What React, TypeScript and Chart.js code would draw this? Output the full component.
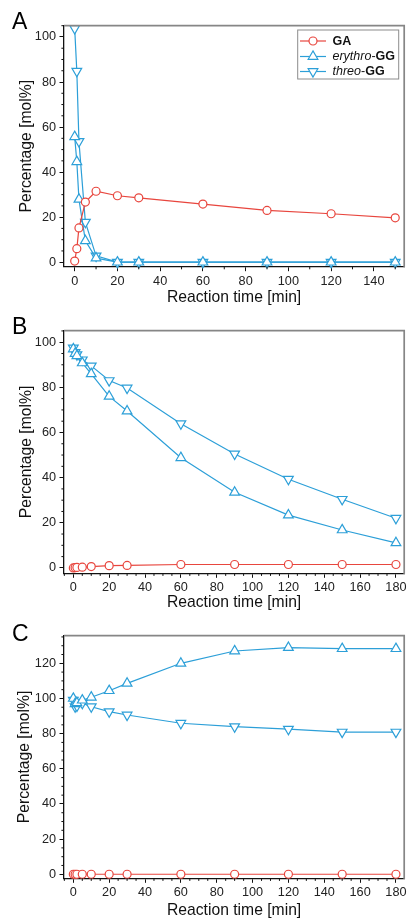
import React, { useEffect, useRef } from 'react';
import { Chart, registerables } from 'chart.js';

Chart.register(...registerables);

// ---- data ----
const timeA = [0, 1, 2, 5, 10, 20, 30, 60, 90, 120, 150];
const gaA = [0.5, 6.0, 15.2, 26.7, 31.5, 29.5, 28.6, 25.8, 23.0, 21.5, 19.7];
const erythroA = [55.7, 44.6, 27.9, 9.5, 1.8, 0, 0, 0, 0, 0, 0];
const threoA = [103.8, 84.8, 53.6, 17.8, 2.8, 0, 0, 0, 0, 0, 0];

const timeBC = [0, 1, 2, 5, 10, 20, 30, 60, 90, 120, 150, 180];
const gaB = [0, 0.1, 0.2, 0.3, 0.6, 1.0, 1.1, 1.5, 1.5, 1.5, 1.5, 1.5];
const erythroB = [97.0, 95.0, 94.0, 90.8, 86.0, 76.0, 69.5, 48.8, 33.5, 23.4, 16.8, 11.1];
const threoB = [97.5, 95.5, 94.5, 92.2, 89.5, 83.0, 79.7, 63.9, 50.5, 39.3, 30.4, 22.0];

const gaC = [0, 0, 0, 0, 0, 0, 0, 0, 0, 0, 0, 0];
const erythroC = [100.0, 97.0, 97.5, 99.0, 100.7, 104.4, 108.6, 120.0, 127.0, 128.9, 128.3, 128.3];
const threoC = [99.0, 95.3, 95.8, 97.3, 95.3, 92.5, 90.6, 85.9, 84.0, 82.5, 80.9, 80.9];

const xTicksA = [0, 20, 40, 60, 80, 100, 120, 140];
const xTicksBC = [0, 20, 40, 60, 80, 100, 120, 140, 160, 180];
const yTicksAB = [0, 20, 40, 60, 80, 100];
const yTicksC = [0, 20, 40, 60, 80, 100, 120];

const seriesNames = ['GA', 'erythro-GG', 'threo-GG'];
const xTitle = 'Reaction time [min]';
const yTitle = 'Percentage [mol%]';

const RED = '#e8463e';
const BLUE = '#2c9fd8';
const FONT = '"Liberation Sans", Arial, Helvetica, sans-serif';
const W = 411;
const TRI_R = 5.6;

type Spec = {
  letter: string;
  height: number;
  plotTop: number;
  plotBottom: number;
  xMin: number;
  xMax: number;
  yMin: number;
  yMax: number;
  xTicks: number[];
  yTicks: number[];
  xMinorStep: number;
  yMinorStep: number;
  time: number[];
  ga: number[];
  erythro: number[];
  threo: number[];
  legend: boolean;
  xTitlePad: number;
  yTitlePad: number;
  letterBase: number;
};

const specs: Spec[] = [
  {
    letter: 'A', height: 310, plotTop: 25.7, plotBottom: 266.7,
    xMin: -5, xMax: 154.2, yMin: -2, yMax: 105,
    xTicks: xTicksA, yTicks: yTicksAB, xMinorStep: 10, yMinorStep: 5,
    time: timeA, ga: gaA, erythro: erythroA, threo: threoA,
    legend: true, xTitlePad: 3.0, yTitlePad: 16.9, letterBase: 29.3,
  },
  {
    letter: 'B', height: 305, plotTop: 20.7, plotBottom: 263.3,
    xMin: -5.2, xMax: 184.6, yMin: -2.4, yMax: 105.1,
    xTicks: xTicksBC, yTicks: yTicksAB, xMinorStep: 5, yMinorStep: 5,
    time: timeBC, ga: gaB, erythro: erythroB, threo: threoB,
    legend: false, xTitlePad: 3.4, yTitlePad: 16.9, letterBase: 24,
  },
  {
    letter: 'C', height: 305, plotTop: 20.7, plotBottom: 263.3,
    xMin: -5.2, xMax: 184.6, yMin: -2.3, yMax: 135.7,
    xTicks: xTicksBC, yTicks: yTicksC, xMinorStep: 5, yMinorStep: 5,
    time: timeBC, ga: gaC, erythro: erythroC, threo: threoC,
    legend: false, xTitlePad: 0.4, yTitlePad: 15.5, letterBase: 26,
  },
];

function drawMarker(ctx: CanvasRenderingContext2D, kind: string, x: number, y: number, r: number, rot: number, color: string) {
  ctx.save();
  ctx.beginPath();
  if (kind === 'circle') {
    ctx.arc(x, y, r, 0, Math.PI * 2);
  } else {
    let a = (rot * Math.PI) / 180;
    for (let i = 0; i < 3; i++) {
      const px = x + Math.sin(a) * r;
      const py = y - Math.cos(a) * r;
      if (i === 0) ctx.moveTo(px, py);
      else ctx.lineTo(px, py);
      a += (2 * Math.PI) / 3;
    }
    ctx.closePath();
  }
  ctx.fillStyle = '#fff';
  ctx.fill();
  ctx.strokeStyle = color;
  ctx.lineWidth = 1.2;
  ctx.stroke();
  ctx.restore();
}

function makeConfig(spec: Spec): any {
  const pts = (arr: number[]) => spec.time.map((t, i) => ({ x: t, y: arr[i] }));
  const common = {
    borderWidth: 1.2,
    pointBorderWidth: 1.2,
    pointBackgroundColor: '#fff',
    clip: false,
    tension: 0,
  };
  const framePlugin = {
    id: 'frame' + spec.letter,
    afterDraw(chart: any) {
      const { ctx, chartArea: ca, scales } = chart;
      ctx.save();
      // top/right frame
      ctx.strokeStyle = '#868686';
      ctx.lineWidth = 1.7;
      ctx.beginPath();
      ctx.moveTo(ca.left, ca.top);
      ctx.lineTo(ca.right, ca.top);
      ctx.lineTo(ca.right, ca.bottom + 0.6);
      ctx.stroke();
      // minor ticks
      ctx.strokeStyle = '#111';
      ctx.lineWidth = 1;
      ctx.beginPath();
      const xs = scales.x;
      const ys = scales.y;
      for (let v = Math.ceil(spec.xMin / spec.xMinorStep) * spec.xMinorStep; v <= spec.xMax; v += spec.xMinorStep) {
        if (spec.xTicks.includes(v)) continue;
        const px = xs.getPixelForValue(v);
        ctx.moveTo(px, ca.bottom);
        ctx.lineTo(px, ca.bottom + 2.6);
      }
      for (let v = Math.ceil(spec.yMin / spec.yMinorStep) * spec.yMinorStep; v <= spec.yMax; v += spec.yMinorStep) {
        if (spec.yTicks.includes(v)) continue;
        const py = ys.getPixelForValue(v);
        ctx.moveTo(ca.left, py);
        ctx.lineTo(ca.left - 2.6, py);
      }
      ctx.stroke();
      // panel letter
      ctx.fillStyle = '#000';
      ctx.font = `23px ${FONT}`;
      ctx.textBaseline = 'alphabetic';
      ctx.textAlign = 'left';
      ctx.fillText(spec.letter, 12, spec.letterBase);
      // legend
      if (spec.legend) {
        ctx.strokeStyle = '#8c8c8c';
        ctx.lineWidth = 1;
        ctx.strokeRect(297.7, 30, 101, 49);
        const entries = [
          { color: RED, kind: 'circle', r: 4, rot: 0, y: 41, parts: [[seriesNames[0], 'normal', 'bold']] },
          { color: BLUE, kind: 'triangle', r: TRI_R, rot: 0, y: 56.5, parts: [['erythro', 'italic', 'normal'], ['-', 'normal', 'normal'], ['GG', 'normal', 'bold']] },
          { color: BLUE, kind: 'triangle', r: TRI_R, rot: 180, y: 71.5, parts: [['threo', 'italic', 'normal'], ['-', 'normal', 'normal'], ['GG', 'normal', 'bold']] },
        ];
        entries.forEach((e) => {
          ctx.strokeStyle = e.color;
          ctx.lineWidth = 1.2;
          ctx.beginPath();
          ctx.moveTo(300, e.y);
          ctx.lineTo(326, e.y);
          ctx.stroke();
          drawMarker(ctx, e.kind, 313, e.y, e.r, e.rot, e.color);
          let x = 332.5;
          ctx.fillStyle = '#111';
          ctx.textBaseline = 'middle';
          e.parts.forEach(([t, style, weight]) => {
            ctx.font = `${style} ${weight} 12.5px ${FONT}`;
            ctx.fillText(t, x, e.y + 0.5);
            x += ctx.measureText(t).width;
          });
        });
      }
      ctx.restore();
    },
  };
  return {
    type: 'line',
    data: {
      datasets: [
        {
          ...common, label: seriesNames[0], data: pts(spec.ga),
          borderColor: RED, backgroundColor: RED, pointBorderColor: RED,
          pointStyle: 'circle', pointRadius: 4,
        },
        {
          ...common, label: seriesNames[1], data: pts(spec.erythro),
          borderColor: BLUE, backgroundColor: BLUE, pointBorderColor: BLUE,
          pointStyle: 'triangle', pointRadius: TRI_R,
        },
        {
          ...common, label: seriesNames[2], data: pts(spec.threo),
          borderColor: BLUE, backgroundColor: BLUE, pointBorderColor: BLUE,
          pointStyle: 'triangle', pointRotation: 180, pointRadius: TRI_R,
        },
      ],
    },
    options: {
      animation: false,
      responsive: false,
      events: [],
      layout: { padding: { top: spec.plotTop, right: W - 407.3, left: 0, bottom: 0 } },
      plugins: { legend: { display: false }, tooltip: { enabled: false }, title: { display: false } },
      scales: {
        x: {
          type: 'linear',
          min: spec.xMin,
          max: spec.xMax,
          afterBuildTicks: (s: any) => { s.ticks = spec.xTicks.map((v) => ({ value: v })); },
          afterFit: (s: any) => { s.height = spec.height - spec.plotBottom; s.paddingLeft = 0; s.paddingRight = 0; },
          grid: { display: true, drawOnChartArea: false, drawTicks: true, tickLength: 4.5, tickColor: '#111', tickWidth: 1 },
          border: { display: true, color: '#111', width: 1.3 },
          ticks: { font: { family: FONT, size: 12.7 }, color: '#222', padding: 2.5, maxRotation: 0, autoSkip: false },
          title: { display: true, text: xTitle, font: { family: FONT, size: 15.7 }, color: '#111', padding: { top: 0, bottom: spec.xTitlePad } },
        },
        y: {
          type: 'linear',
          min: spec.yMin,
          max: spec.yMax,
          afterBuildTicks: (s: any) => { s.ticks = spec.yTicks.map((v) => ({ value: v })); },
          afterFit: (s: any) => { s.width = 64; s.paddingTop = 0; s.paddingBottom = 0; },
          grid: { display: true, drawOnChartArea: false, drawTicks: true, tickLength: 4.5, tickColor: '#111', tickWidth: 1 },
          border: { display: true, color: '#111', width: 1.3 },
          ticks: { font: { family: FONT, size: 12.7 }, color: '#222', padding: 3.5, autoSkip: false },
          title: { display: true, text: yTitle, font: { family: FONT, size: 15.7 }, color: '#111', padding: { top: spec.yTitlePad, bottom: 0 } },
        },
      },
    },
    plugins: [framePlugin],
  };
}

function Panel({ spec }: { spec: Spec }) {
  const ref = useRef<HTMLCanvasElement | null>(null);
  useEffect(() => {
    if (!ref.current) return;
    const chart = new Chart(ref.current, makeConfig(spec));
    return () => chart.destroy();
  }, [spec]);
  return <canvas ref={ref} width={W} height={spec.height} style={{ display: 'block', width: W, height: spec.height }} />;
}

export default function App() {
  return (
    <div style={{ position: 'absolute', left: 0, top: 0, width: W, height: 920, background: '#fff' }}>
      {specs.map((s) => (
        <Panel key={s.letter} spec={s} />
      ))}
    </div>
  );
}
